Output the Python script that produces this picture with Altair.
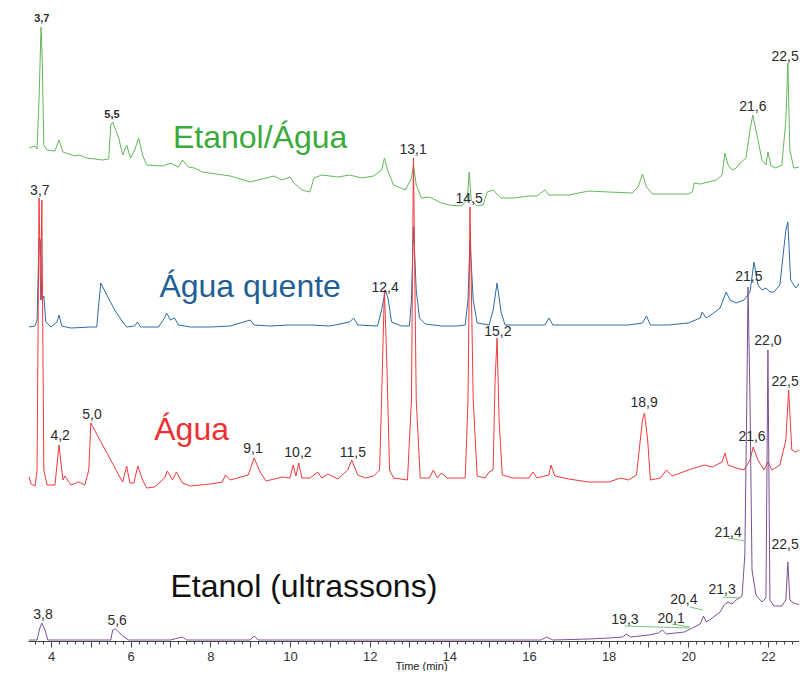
import altair as alt
import pandas as pd

# ---------------- data (retention time in min, relative intensity) ----------------
green_t = [3.45, 3.6, 3.65, 3.7, 3.75, 3.78, 3.82, 3.9, 4.1, 4.2, 4.3, 4.6, 4.7, 4.9, 5.3, 5.45, 5.5, 5.55, 5.7, 5.8,
           5.9, 6.0, 6.1, 6.2, 6.3, 6.4, 6.8, 7.0, 7.2, 7.3, 7.45, 7.6, 7.8, 8.5, 9.0, 9.4, 9.6, 9.8, 10.0, 10.1,
           10.3, 10.5, 10.6, 10.8, 11.2, 11.5, 11.8, 12.1, 12.3, 12.37, 12.45, 12.6, 12.9, 13.05, 13.1, 13.17, 13.3,
           13.5, 13.8, 14.0, 14.3, 14.45, 14.5, 14.55, 14.7, 14.85, 14.95, 15.1, 15.3, 15.6, 16.0, 16.2, 16.4, 16.5,
           17.0, 17.5, 18.0, 18.6, 18.75, 18.85, 18.95, 19.1, 19.5, 20.0, 20.1, 20.15, 20.3, 20.7, 20.85, 20.92, 21.0,
           21.1, 21.2, 21.3, 21.45, 21.55, 21.62, 21.7, 21.85, 21.95, 22.0, 22.08, 22.2, 22.35, 22.45, 22.5, 22.55,
           22.65, 22.8, 22.9]
green_v = [493, 495, 492, 541, 614, 581, 496, 491, 490, 501, 489, 485, 486, 483, 481, 482, 516, 519, 503, 486,
           496, 483, 491, 503, 486, 476, 475, 478, 474, 481, 474, 473, 469, 465, 459, 463, 465, 461, 464, 458,
           451, 449, 463, 466, 464, 466, 463, 465, 471, 483, 471, 456, 451, 463, 476, 456, 443,
           444, 438, 436, 435, 441, 469, 441, 435, 436, 449, 451, 443, 443, 445, 445, 451, 446,
           446, 450, 449, 448, 455, 467, 454, 447, 447, 447, 449, 458, 457, 461, 466, 488, 476,
           471, 473, 478, 483, 511, 526, 511, 481, 476, 489, 475, 473, 476, 521, 578, 491,
           473, 474, 541]

blue_t = [3.45, 3.6, 3.65, 3.7, 3.73, 3.77, 3.82, 3.87, 4.0, 4.15, 4.2, 4.27, 4.5, 5.0, 5.15, 5.18, 5.25, 5.4, 5.6,
          5.8, 5.9, 6.1, 6.17, 6.25, 6.7, 6.85, 6.9, 7.0, 7.1, 7.2, 7.5, 8.0, 8.5, 9.0, 9.1, 9.5, 10.0, 10.5, 11.0,
          11.5, 11.6, 11.7, 12.2, 12.3, 12.4, 12.47, 12.55, 12.8, 13.0, 13.05, 13.1, 13.17, 13.25, 13.4, 13.8, 14.2,
          14.4, 14.47, 14.52, 14.6, 14.7, 15.0, 15.1, 15.2, 15.3, 15.4, 16.0, 16.4, 16.5, 16.6, 17.5, 18.5, 18.85,
          18.95, 19.05, 19.5, 20.0, 20.3, 20.35, 20.45, 20.6, 20.8, 20.95, 21.05, 21.2, 21.4, 21.55, 21.65, 21.75,
          21.85, 21.95, 22.05, 22.15, 22.3, 22.45, 22.5, 22.57, 22.7, 22.85, 22.95]
blue_v = [314, 315, 321, 403, 401, 341, 345, 319, 314, 319, 326, 315, 313, 314, 314, 329, 358, 346, 331,
          319, 314, 315, 319, 314, 314, 323, 328, 321, 323, 316, 314, 314, 315, 321, 316, 315, 316, 316, 315,
          319, 323, 316, 315, 331, 351, 341, 319, 315, 315, 341, 414, 351, 323, 317, 315, 315,
          316, 341, 401, 341, 318, 316, 331, 358, 329, 316, 316, 316, 323, 316, 316, 316, 318,
          325, 316, 316, 318, 323, 329, 323, 327, 333, 349, 341, 338, 341, 349, 379, 356,
          351, 353, 349, 349, 356, 411, 419, 361, 353, 361, 351]

red_t = [3.45, 3.5, 3.6, 3.65, 3.7, 3.74, 3.77, 3.82, 3.9, 4.1, 4.2, 4.3, 4.35, 4.5, 4.7, 4.85, 4.95, 5.0, 5.2, 5.5,
         5.7, 5.8, 5.9, 5.98, 6.08, 6.18, 6.3, 6.4, 6.6, 6.85, 6.92, 7.05, 7.15, 7.3, 7.5, 8.0, 8.3, 8.38, 8.5,
         8.95, 9.1, 9.25, 9.4, 9.8, 10.0, 10.08, 10.15, 10.22, 10.3, 10.5, 10.7, 10.8, 10.95, 11.2, 11.45, 11.55,
         11.7, 11.9, 12.1, 12.25, 12.3, 12.37, 12.43, 12.5, 12.6, 12.95, 13.05, 13.1, 13.17, 13.27, 13.5, 13.6,
         13.7, 13.8, 13.95, 14.4, 14.47, 14.52, 14.6, 14.7, 14.9, 15.0, 15.1, 15.15, 15.2, 15.25, 15.33, 15.6,
         16.0, 16.1, 16.2, 16.5, 16.55, 16.65, 17.0, 17.5, 18.0, 18.3, 18.5, 18.7, 18.85, 18.9, 18.98, 19.05,
         19.3, 19.45, 19.6, 20.0, 20.4, 20.6, 20.85, 20.92, 21.0, 21.2, 21.4, 21.55, 21.63, 21.75, 21.9, 22.0,
         22.1, 22.3, 22.45, 22.52, 22.6, 22.7, 22.85, 22.95]
red_v = [164, 157, 155, 171, 443, 341, 441, 171, 156, 156, 196, 161, 165, 156, 159, 156, 171, 218, 203, 181,
         166, 159, 175, 158, 158, 175, 161, 153, 154, 163, 170, 161, 169, 158, 155, 157, 159, 166, 161,
         166, 183, 169, 160, 164, 163, 176, 165, 178, 163, 163, 169, 163, 167, 162, 171, 181,
         166, 163, 165, 171, 241, 351, 281, 171, 163, 161, 241, 483, 241, 163, 163, 171,
         163, 168, 163, 163, 241, 434, 241, 165, 163, 169, 171, 261, 303, 221, 166, 163,
         163, 169, 163, 166, 176, 165, 162, 159, 159, 163, 161, 166, 221, 228, 201, 161,
         163, 171, 165, 171, 176, 174, 179, 188, 176, 173, 171, 181, 194, 181, 171, 179,
         171, 176, 201, 251, 191, 189, 193, 181]

purple_t = [3.45, 3.65, 3.72, 3.77, 3.85, 3.92, 5.5, 5.55, 5.62, 5.8, 5.95, 7.0, 7.3, 7.4, 9.0, 9.1, 9.2, 12.0,
            16.3, 16.45, 16.6, 17.5, 18.0, 18.35, 18.45, 18.55, 19.0, 19.25, 19.35, 19.45, 19.9, 20.1, 20.3,
            20.38, 20.45, 20.6, 20.8, 20.9, 21.0, 21.1, 21.2, 21.35, 21.42, 21.47, 21.5, 21.55, 21.6, 21.7,
            21.85, 21.95, 22.0, 22.05, 22.15, 22.35, 22.45, 22.5, 22.55, 22.65, 22.8, 22.95]
purple_v = [1, 1, 13, 18, 11, 1, 1, 11, 12, 5, 1, 1, 4, 1, 1, 5, 1, 1,
            1, 4, 1, 2, 3, 4, 7, 4, 6, 8, 11, 7, 9, 13, 17,
            25, 19, 23, 29, 36, 39, 37, 41, 45, 86, 241, 354, 241, 71, 46,
            39, 43, 291, 41, 35, 35, 41, 79, 41, 38, 36, 34]

# peak labels
lab_text = ["21,6", "22,5", "13,1", "14,5",
            "3,7", "12,4", "15,2", "21,5", "22,0",
            "4,2", "5,0", "9,1", "10,2", "11,5", "18,9", "21,6", "22,5",
            "3,8", "5,6", "19,3", "20,1", "20,4", "21,3", "21,4", "22,5"]
lab_t = [21.62, 22.43, 13.09, 14.5,
         3.72, 12.39, 15.22, 21.52, 22.0,
         4.23, 5.03, 9.07, 10.2, 11.58, 18.89, 21.6, 22.43,
         3.8, 5.66, 18.41, 19.57, 19.89, 20.85, 21.0, 22.43]
lab_v = [534, 584, 491, 442,
         450, 353, 309, 364, 300,
         205, 226, 192, 188, 188, 238, 204, 259,
         26, 20, 21, 22, 41, 51, 108, 96]
small_lab_text = ["3,7", "5,5"]
small_lab_t = [3.77, 5.53]
small_lab_v = [622, 526]

# leader lines of the ethanol annotations
ldr_t1 = [18.41, 19.6, 20.04, 20.87, 21.0]
ldr_t2 = [20.04, 20.04, 20.37, 21.3, 21.42]
ldr_v1 = [15, 17, 34, 44, 103]
ldr_v2 = [13, 14, 31, 43, 100]

# trace names
series = ["Etanol/Água", "Água quente", "Água", "Etanol (ultrassons)"]
series_t = [9.25, 9.0, 7.53, 10.35]
series_v = [503, 354, 211, 54]

line_colors = ["#62b85a", "#2d6ca5", "#f0393c", "#7b5296"]
title_colors = ["#3aaa3a", "#1f5f96", "#ee2e31", "#111111"]

# axis ticks every 0.2 min (long ones on whole minutes, labels on even minutes)
tick_values = [round(3.6 + 0.2 * i, 1) for i in range(97)]

# ---------------- chart ----------------
FONT = "Liberation Sans"
PLOT_W, PLOT_H = 771, 633
x_scale = alt.Scale(domain=[3.4225, 22.78], nice=False, zero=False)
y_scale = alt.Scale(domain=[0, 633], nice=False, zero=False)

WHOLE = "abs(datum.value - round(datum.value)) < 0.01"
x_axis = alt.Axis(
    values=tick_values,
    labelExpr="(" + WHOLE + " && round(datum.value) % 2 == 0) ? format(round(datum.value), 'd') : ''",
    labelOverlap=False,
    orient="bottom", grid=False,
    tickSize={"condition": {"test": WHOLE, "value": 6}, "value": 3},
    tickColor="#444", domainColor="#444",
    labelFont=FONT, labelFontSize=13, labelColor="#333", labelPadding=3,
    title="Time (min)", titleFont=FONT, titleFontSize=11, titleFontWeight="normal",
    titleColor="#222", titleBaseline="alphabetic", titleY=28, titleX=393, titleAlign="center",
)

def trace(ts, vs, color, axis):
    d = pd.DataFrame({"t": ts, "v": vs})
    return alt.Chart(d).mark_line(strokeWidth=1, color=color, clip=True, interpolate="linear").encode(
        x=alt.X("t:Q", scale=x_scale, axis=axis),
        y=alt.Y("v:Q", scale=y_scale, axis=None),
    )

g = trace(green_t, green_v, line_colors[0], None)
b = trace(blue_t, blue_v, line_colors[1], x_axis)
r = trace(red_t, red_v, line_colors[2], None)
p = trace(purple_t, purple_v, line_colors[3], None)

ldr = alt.Chart(pd.DataFrame({"t1": ldr_t1, "t2": ldr_t2, "v1": ldr_v1, "v2": ldr_v2})).mark_rule(
    color="#7cc57a", strokeWidth=1).encode(
    x=alt.X("t1:Q", scale=x_scale, axis=None), x2="t2:Q",
    y=alt.Y("v1:Q", scale=y_scale, axis=None), y2="v2:Q",
)

labels = alt.Chart(pd.DataFrame({"t": lab_t, "v": lab_v, "txt": lab_text})).mark_text(
    font=FONT, fontSize=14, color="#2b2b2b", align="center", baseline="middle").encode(
    x=alt.X("t:Q", scale=x_scale, axis=None),
    y=alt.Y("v:Q", scale=y_scale, axis=None),
    text="txt:N",
)
small_labels = alt.Chart(pd.DataFrame({"t": small_lab_t, "v": small_lab_v, "txt": small_lab_text})).mark_text(
    font=FONT, fontSize=11, fontWeight="bold", color="#2b2b2b", align="center", baseline="middle").encode(
    x=alt.X("t:Q", scale=x_scale, axis=None),
    y=alt.Y("v:Q", scale=y_scale, axis=None),
    text="txt:N",
)

titles = alt.Chart(pd.DataFrame({"t": series_t, "v": series_v, "name": series})).mark_text(
    font=FONT, fontSize=32, align="center", baseline="middle").encode(
    x=alt.X("t:Q", scale=x_scale, axis=None),
    y=alt.Y("v:Q", scale=y_scale, axis=None),
    text="name:N",
    color=alt.Color("name:N", scale=alt.Scale(domain=series, range=title_colors), legend=None),
)

chart = alt.layer(g, b, r, p, ldr, labels, small_labels, titles).resolve_axis(x="independent").properties(
    width=PLOT_W, height=PLOT_H,
    autosize=alt.AutoSizeParams(type="none"),
    padding={"left": 20, "top": 0, "right": 0, "bottom": 30},
    background="white",
).configure_view(stroke=None)

chart.save("out.html", embed_options={"renderer": "svg", "actions": False})
